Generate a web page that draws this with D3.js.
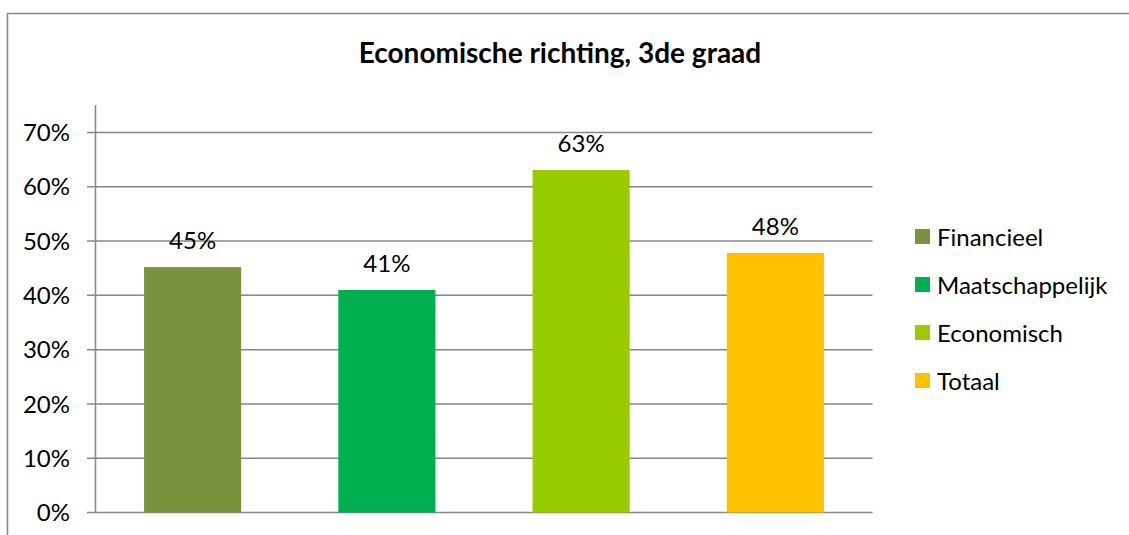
<!DOCTYPE html>
<html><head><meta charset="utf-8">
<script src="https://cdn.jsdelivr.net/npm/d3@7"></script>
<style>body{margin:0;background:#fff}svg{display:block}</style>
</head><body>
<script>
const categories = ["Financieel", "Maatschappelijk", "Economisch", "Totaal"];
const values = [0.452, 0.41, 0.631, 0.478];
const valueLabels = ["45%", "41%", "63%", "48%"];
const colors = ["#77933C", "#00B050", "#99CC00", "#FFC000"];
const yTicks = [0, 0.1, 0.2, 0.3, 0.4, 0.5, 0.6, 0.7];
const title = "Economische richting, 3de graad";

const W = 1129, H = 535;
const font = "Lato, 'Open Sans', sans-serif";
const svg = d3.select("body").append("svg").attr("width", W).attr("height", H);

svg.append("rect").attr("x", 7.5).attr("y", 13.5).attr("width", W + 10).attr("height", H + 10)
  .attr("fill", "#fff").attr("stroke", "#868686").attr("stroke-width", 1.5);

const x0 = 95.5, x1 = 872.5, yTop = 105;
const x = d3.scaleBand().domain(categories).range([x0, x1]).paddingInner(0.5).paddingOuter(0.25);
const y = d3.scaleLinear().domain([0, 0.7]).range([512.5, 132.5]);

const g = svg.append("g");
g.selectAll("line.grid").data(yTicks).join("line")
  .attr("x1", 87).attr("x2", x1).attr("y1", d => y(d)).attr("y2", d => y(d))
  .attr("stroke", "#868686").attr("stroke-width", 1.5);
g.append("line").attr("x1", x0).attr("x2", x0).attr("y1", yTop).attr("y2", y(0))
  .attr("stroke", "#868686").attr("stroke-width", 1.5);
g.selectAll("text.yt").data(yTicks).join("text")
  .attr("x", 70).attr("y", d => y(d)).attr("dy", "0.36em")
  .attr("text-anchor", "end").attr("font-family", font).attr("font-size", 24)
  .attr("fill", "#000").text(d => d3.format(".0%")(d));

g.selectAll("rect.bar").data(categories).join("rect")
  .attr("x", d => x(d)).attr("width", x.bandwidth())
  .attr("y", (d, i) => y(values[i])).attr("height", (d, i) => y(0) - y(values[i]))
  .attr("fill", (d, i) => colors[i]);

g.selectAll("text.lbl").data(categories).join("text")
  .attr("x", d => x(d) + x.bandwidth() / 2).attr("y", (d, i) => y(values[i]) - 18)
  .attr("text-anchor", "middle").attr("font-family", font).attr("font-size", 24)
  .attr("fill", "#000").text((d, i) => valueLabels[i]);

svg.append("text").attr("x", 560).attr("y", 63).attr("text-anchor", "middle")
  .attr("font-family", font).attr("font-weight", "bold").attr("font-size", 28)
  .attr("fill", "#000").text(title);

const leg = svg.selectAll("g.leg").data(categories).join("g")
  .attr("transform", (d, i) => `translate(915, ${237 + i * 48})`);
leg.append("rect").attr("x", 0).attr("y", -8).attr("width", 15).attr("height", 15)
  .attr("fill", (d, i) => colors[i]);
leg.append("text").attr("x", 22).attr("y", 0).attr("dy", "0.36em")
  .attr("font-family", font).attr("font-size", 24).attr("fill", "#000").text(d => d);
</script>
</body></html>
